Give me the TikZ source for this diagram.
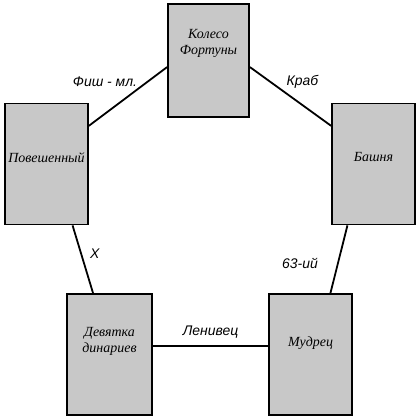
\documentclass[tikz,border=0pt]{standalone}
\usepackage{fontspec}
\setmainfont{Liberation Serif}
\setsansfont{Liberation Sans}
\usepackage{tikz}
\definecolor{cardfill}{HTML}{C8C8C8}
\definecolor{ink}{HTML}{000000}
\tikzset{
  card/.style={rectangle, draw=ink, fill=cardfill, line width=1.8pt,
               align=center, font=\fontsize{14}{16}\selectfont\itshape,
               minimum width=83bp, minimum height=121bp, inner sep=2pt,
               text height=10bp},
  link/.style={draw=ink, line width=1.8pt},
  lbl/.style={font=\sffamily\fontsize{14}{16}\selectfont\itshape, text=ink, inner sep=1pt}
}

\begin{document}
\begin{tikzpicture}[x=1bp, y=-1bp]
  \useasboundingbox (0,0) rectangle (420,420);
  \node[card, minimum width=81bp, minimum height=113bp, text depth=23bp] (koleso) at (208.5,60.5) {Колесо\\Фортуны};
  \node[card, text depth=14bp] (povesh) at (46.5,164) {Повешенный};
  \node[card, text depth=15bp] (bashnya) at (373.5,164) {Башня};
  \node[card, minimum width=85bp, text depth=15bp] (devyatka) at (109.5,354.5) {Девятка\\динариев};
  \node[card, text depth=26bp] (mudrec) at (310.5,354.5) {Мудрец};
  \draw[link] (povesh.42) -- node[lbl, xshift=-23bp, yshift=15bp] {Фиш - мл.} (koleso.189);
  \draw[link] (koleso.351) -- node[lbl, xshift=12bp, yshift=15bp] {Краб} (bashnya.138);
  \draw[link] (povesh.293) -- node[lbl, xshift=12bp, yshift=6bp] {Х} (devyatka.105);
  \draw[link] (bashnya.247) -- node[lbl, xshift=-39bp, yshift=-4bp] {63-ий} (mudrec.72);
  \draw[link, line width=2bp] ([yshift=9bp]devyatka.east) -- node[lbl, yshift=13bp] {Ленивец} ([yshift=9bp]mudrec.west);
\end{tikzpicture}
\end{document}
